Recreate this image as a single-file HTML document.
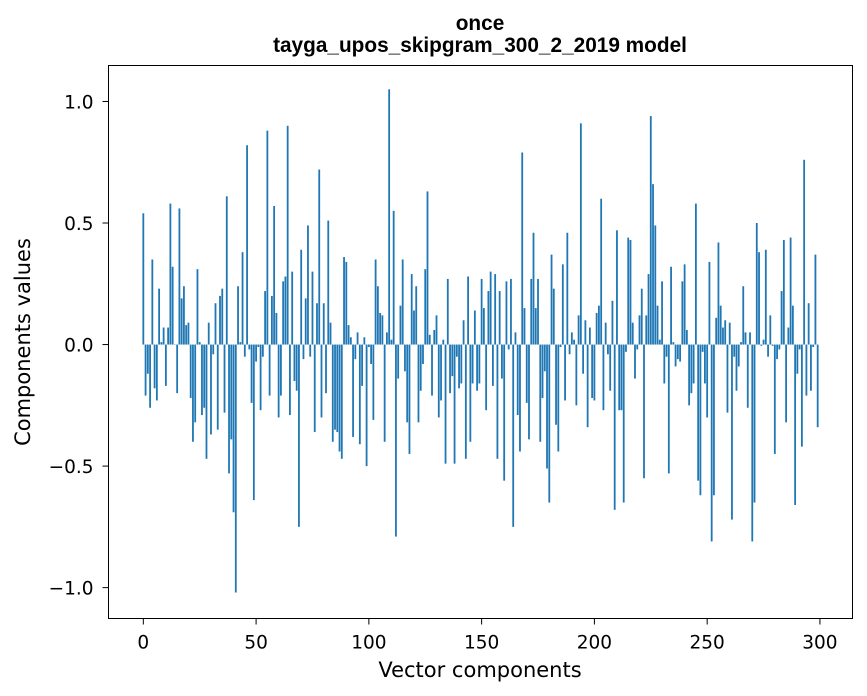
<!DOCTYPE html>
<html><head><meta charset="utf-8"><style>
body{margin:0;background:#fff;}
svg{display:block;font-family:"DejaVu Sans","Liberation Sans",sans-serif;}
</style></head><body>
<svg id="chart" width="867" height="696" viewBox="0 0 867 696" xmlns="http://www.w3.org/2000/svg">
<rect x="0" y="0" width="867" height="696" fill="#fff"/>
<text x="480" y="30" text-anchor="middle" font-size="20.8" font-weight="bold" font-family="Liberation Sans, sans-serif">once</text>
<text x="480" y="52" text-anchor="middle" font-size="20.8" font-weight="bold" font-family="Liberation Sans, sans-serif">tayga_upos_skipgram_300_2_2019 model</text>
<g id="bars"></g>
<g id="xticks"></g>
<g id="yticks"></g>
<rect x="108.5" y="65.5" width="744" height="553" fill="none" stroke="#000" stroke-width="1"/>
<text x="480" y="677" text-anchor="middle" font-size="21">Vector components</text>
<text transform="translate(30,342) rotate(-90)" text-anchor="middle" font-size="21">Components values</text>
</svg>
<script>
const values = [
0.54,-0.21,-0.12,-0.26,0.35,-0.18,-0.23,0.23,0.01,0.07,
-0.17,0.07,0.58,0.32,0.0,-0.2,0.56,0.19,0.24,0.08,
0.09,-0.22,-0.40,-0.32,0.31,0.01,-0.29,-0.26,-0.47,0.09,
-0.37,-0.04,0.17,-0.35,0.20,0.23,-0.28,0.61,-0.53,-0.39,
-0.69,-1.02,0.24,0.01,0.38,-0.05,0.82,-0.02,-0.24,-0.64,
-0.07,-0.01,-0.27,-0.05,0.22,0.88,-0.21,0.20,0.57,0.13,
-0.30,-0.21,0.26,0.28,0.90,-0.29,0.30,-0.15,-0.19,-0.75,
0.39,-0.06,0.19,0.49,-0.05,0.30,-0.36,0.17,0.72,-0.30,
0.17,-0.20,0.51,0.09,-0.40,-0.35,-0.36,-0.44,-0.47,0.36,
0.34,0.08,0.03,-0.38,-0.06,0.05,-0.41,-0.17,0.03,-0.50,
-0.01,-0.08,-0.31,0.35,0.24,0.13,0.12,-0.40,0.05,1.05,
0.02,0.55,-0.79,-0.14,0.16,0.35,-0.11,-0.32,-0.45,0.29,
0.14,0.24,-0.32,-0.19,-0.08,0.31,0.63,0.04,-0.21,0.06,
0.12,-0.30,-0.23,0.02,-0.49,0.27,-0.20,-0.13,-0.49,-0.05,
-0.18,-0.16,0.10,-0.47,0.28,-0.40,-0.16,0.14,-0.19,-0.16,
0.27,0.15,-0.27,0.22,0.30,-0.17,0.29,-0.47,0.22,-0.14,
-0.56,0.26,-0.02,0.27,-0.75,0.05,-0.29,-0.44,0.79,0.15,
-0.24,-0.39,0.27,0.46,0.15,0.27,-0.40,-0.22,-0.11,-0.51,
-0.65,0.37,0.23,-0.33,-0.44,-0.01,0.33,-0.23,0.46,-0.04,
0.05,0.02,-0.25,0.12,0.91,-0.12,0.10,-0.34,0.07,-0.22,
-0.23,0.13,0.16,0.60,-0.27,0.09,-0.04,-0.19,0.18,-0.68,
0.47,-0.27,-0.27,-0.65,-0.03,0.44,0.43,0.09,-0.14,-0.02,
0.12,0.23,-0.55,0.12,0.29,0.94,0.66,0.49,0.16,0.02,
0.26,-0.16,-0.05,-0.53,0.32,0.01,-0.09,-0.06,-0.07,0.26,
0.33,0.06,-0.25,-0.20,-0.16,0.58,-0.56,-0.62,-0.03,-0.16,
-0.30,0.34,-0.81,-0.62,0.11,0.42,0.16,0.07,0.10,-0.28,
0.09,-0.72,-0.05,-0.19,-0.09,0.01,0.24,0.05,-0.26,0.05,
-0.81,-0.65,0.50,0.38,-0.005,0.02,0.39,-0.05,0.12,-0.005,
-0.45,-0.06,-0.02,0.22,0.43,-0.32,0.07,0.44,0.16,-0.66,
-0.12,-0.02,-0.42,0.76,-0.21,0.17,-0.19,-0.01,0.37,-0.34
];
const xTickValues = [0,50,100,150,200,250,300];
const xTickLabels = ["0","50","100","150","200","250","300"];
const yTickValues = [1.0,0.5,0.0,-0.5,-1.0];
const yTickLabels = ["1.0","0.5","0.0","\u22120.5","\u22121.0"];

const NS = "http://www.w3.org/2000/svg";
const L = 108.5, R = 852.5, T = 65.5, B = 618.5;
const xMin = -15.44, xMax = 314.44, yMin = -1.127, yMax = 1.148;
function xs(v){ return L + (v - xMin) / (xMax - xMin) * (R - L); }
function ys(v){ return T + (yMax - v) / (yMax - yMin) * (B - T); }

const gb = document.getElementById('bars');
values.forEach((v, i) => {
  const r = document.createElementNS(NS, 'rect');
  const x0 = xs(i - 0.4), x1 = xs(i + 0.4);
  const y0 = ys(Math.max(v, 0)), y1 = ys(Math.min(v, 0));
  r.setAttribute('x', x0);
  r.setAttribute('width', x1 - x0);
  r.setAttribute('y', y0);
  r.setAttribute('height', Math.max(y1 - y0, 0.3));
  r.setAttribute('fill', '#1f77b4');
  
  
  gb.appendChild(r);
});

const gx = document.getElementById('xticks');
xTickValues.forEach((v, i) => {
  const x = xs(v);
  const l = document.createElementNS(NS, 'line');
  l.setAttribute('x1', x); l.setAttribute('x2', x);
  l.setAttribute('y1', B); l.setAttribute('y2', B + 6);
  l.setAttribute('stroke', '#000');
  
  
  gx.appendChild(l);
  const t = document.createElementNS(NS, 'text');
  t.setAttribute('x', x); t.setAttribute('y', B + 30);
  t.setAttribute('text-anchor', 'middle');
  t.setAttribute('font-size', '18.5');
  t.textContent = xTickLabels[i];
  
  
  gx.appendChild(t);
});

const gy = document.getElementById('yticks');
yTickValues.forEach((v, i) => {
  const y = ys(v);
  const l = document.createElementNS(NS, 'line');
  l.setAttribute('x1', L - 6); l.setAttribute('x2', L);
  l.setAttribute('y1', y); l.setAttribute('y2', y);
  l.setAttribute('stroke', '#000');
  
  
  gy.appendChild(l);
  const t = document.createElementNS(NS, 'text');
  t.setAttribute('x', L - 15); t.setAttribute('y', y + 7);
  t.setAttribute('text-anchor', 'end');
  t.setAttribute('font-size', '18.5');
  t.textContent = yTickLabels[i];
  
  
  gy.appendChild(t);
});
</script>
</body></html>
